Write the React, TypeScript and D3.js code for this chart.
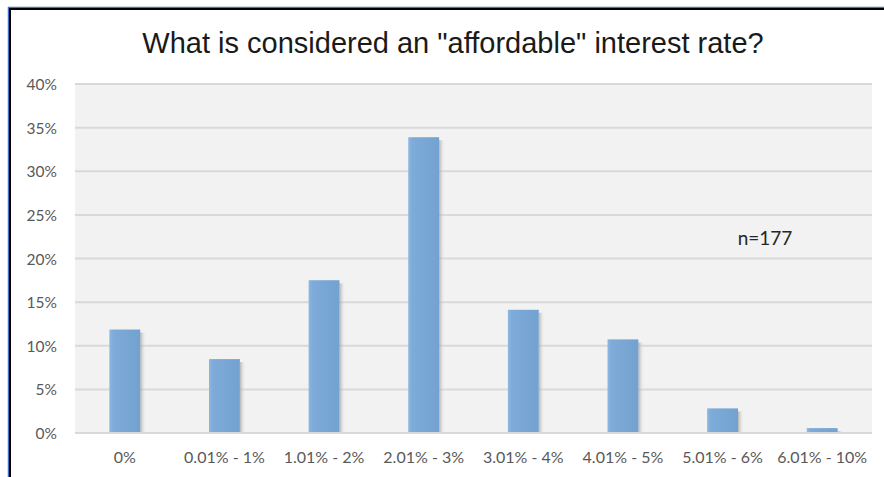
import React from "react";
import * as d3 from "d3";

const categories = ["0%", "0.01% - 1%", "1.01% - 2%", "2.01% - 3%", "3.01% - 4%", "4.01% - 5%", "5.01% - 6%", "6.01% - 10%"];
const values = [11.86, 8.47, 17.51, 33.9, 14.12, 10.73, 2.82, 0.56];
const yTicks = [0, 5, 10, 15, 20, 25, 30, 35, 40];
const title = "What is considered an \"affordable\" interest rate?";
const note = "n=177";

const W = 884, H = 477;
const plot = { left: 75, right: 872, top: 84, bottom: 433 };

export default function App() {
  const x = d3.scaleBand<string>().domain(categories).range([plot.left, plot.right]).paddingInner(0.69).paddingOuter(0.345);
  const y = d3.scaleLinear().domain([0, 40]).range([plot.bottom, plot.top]);
  const labelFont = "Lato, 'Open Sans', sans-serif";
  return (
    <div style={{ position: "absolute", left: 0, top: 0 }}>
      <svg width={W} height={H} style={{ display: "block" }}>
        <defs>
          <linearGradient id="barFill" x1="0" x2="1" y1="0" y2="0">
            <stop offset="0" stopColor="#8cb8e2" />
            <stop offset="0.12" stopColor="#7eabd8" />
            <stop offset="1" stopColor="#73a2d0" />
          </linearGradient>
          <linearGradient id="shadow" x1="0" x2="1" y1="0" y2="0">
            <stop offset="0" stopColor="#9a9a9a" stopOpacity="0.7" />
            <stop offset="1" stopColor="#f2f2f2" stopOpacity="0" />
          </linearGradient>
        </defs>
        <rect x={0} y={0} width={W} height={H} fill="#ffffff" />
        <rect x={plot.left} y={plot.top} width={plot.right - plot.left} height={plot.bottom - plot.top} fill="#f2f2f2" />
        {yTicks.map((t) => (
          <g key={t}>
            <line x1={plot.left} x2={plot.right} y1={y(t)} y2={y(t)} stroke="#d9d9d9" strokeWidth={2} />
            <text x={57} y={y(t) + 6} textAnchor="end" fontFamily={labelFont} fontSize={15.5} fill="#595959">{t}%</text>
          </g>
        ))}
        {categories.map((c, i) => {
          const bx = x(c)!;
          const bw = x.bandwidth();
          const top = y(values[i]);
          return (
            <g key={c}>
              <rect x={bx + bw} y={top + 3} width={6} height={plot.bottom - top - 4} fill="url(#shadow)" />
              <rect x={bx} y={top} width={bw} height={plot.bottom - top - 1} fill="url(#barFill)" />
            </g>
          );
        })}
        {categories.map((c) => (
          <text key={c} x={x(c)! + x.bandwidth() / 2} y={463} textAnchor="middle" fontFamily={labelFont} fontSize={16} fill="#595959">{c}</text>
        ))}
        <text x={765} y={245} textAnchor="middle" fontFamily={labelFont} fontSize={19} fill="#262626">{note}</text>
        <text x={453} y={53} textAnchor="middle" fontFamily="'Liberation Sans', Arial, sans-serif" fontSize={29} fill="#1a1a1a">{title}</text>
        <line x1={8.5} x2={8.5} y1={7} y2={H} stroke="#4472c4" strokeWidth={1.5} />
        <line x1={10} x2={10} y1={9} y2={H} stroke="#000000" strokeWidth={2} />
        <line x1={8} x2={W} y1={7.5} y2={7.5} stroke="#4472c4" strokeWidth={1.5} />
        <line x1={9} x2={W} y1={9} y2={9} stroke="#000000" strokeWidth={2} />
      </svg>
    </div>
  );
}
